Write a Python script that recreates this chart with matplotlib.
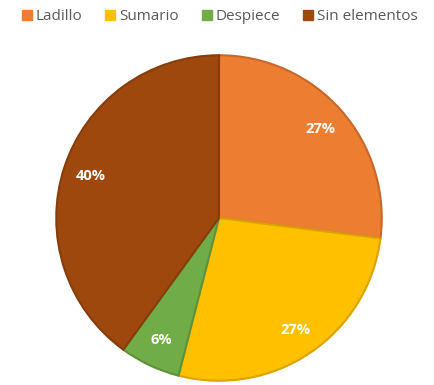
import matplotlib
matplotlib.use("Agg")
import matplotlib.pyplot as plt
from matplotlib.patches import Patch

categories = ["Ladillo", "Sumario", "Despiece", "Sin elementos"]
values = [27, 27, 6, 40]
colors = ["#ED7D31", "#FFC000", "#70AD47", "#9E480E"]
edge_colors = ["#C8672A", "#D9A300", "#5E9239", "#873D0B"]

plt.rcParams["font.family"] = ["Open Sans", "DejaVu Sans"]

fig = plt.figure(figsize=(4.35, 3.85), dpi=100)
fig.patch.set_facecolor("white")

W, H = 435, 385
cx, cy, r = 219, 218, 166
ax = fig.add_axes([(cx - r) / W, (H - cy - r) / H, 2 * r / W, 2 * r / H])

wedges, texts = ax.pie(values, colors=colors, startangle=90, counterclock=False,
                       radius=1.0, labels=[f"{v}%" for v in values],
                       labeldistance=0.83,
                       wedgeprops=dict(linewidth=1.5))
for w, ec in zip(wedges, edge_colors):
    w.set_edgecolor(ec)
for t in texts:
    t.set_color("white")
    t.set_fontweight("bold")
    t.set_fontsize(10.5)
    t.set_ha("center")
    t.set_va("center")
ax.set_xlim(-1.02, 1.02)
ax.set_ylim(-1.02, 1.02)
ax.set_aspect("equal")
ax.axis("off")

handles = [Patch(facecolor=c, edgecolor=c) for c in colors]
leg = fig.legend(handles, categories, loc="center", bbox_to_anchor=(0.505, 1 - 17 / H),
                 ncol=4, frameon=False, fontsize=11, handlelength=0.65, handleheight=0.65,
                 handletextpad=0.25, columnspacing=1.5, labelcolor="#595959")

fig.savefig("out.png", dpi=100, facecolor="white")
